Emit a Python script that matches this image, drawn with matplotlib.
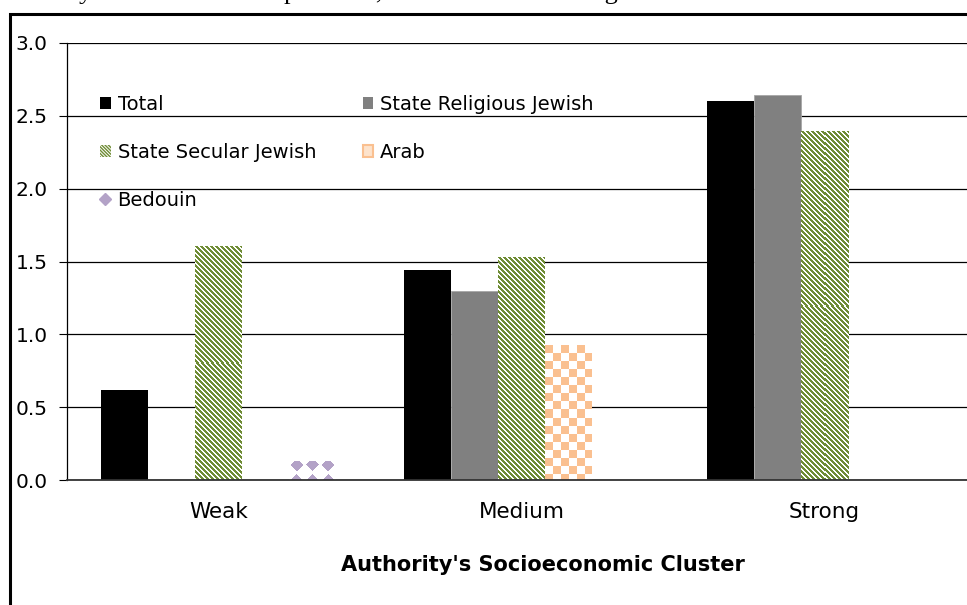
import numpy as np
import matplotlib
matplotlib.use("Agg")
import matplotlib.pyplot as plt
from matplotlib.colors import to_rgb
from matplotlib.patches import Patch, Rectangle
from matplotlib.lines import Line2D

# Hours per class relative to the average, by socioeconomic cluster
categories = ["Weak", "Medium", "Strong"]
series_names = ["Total", "State Religious Jewish", "State Secular Jewish", "Arab", "Bedouin"]
total = [0.62, 1.44, 2.60]
state_religious = [np.nan, 1.30, 2.64]
state_secular = [1.60, 1.53, 2.39]
arab = [np.nan, 0.92, np.nan]
bedouin = [0.13, np.nan, np.nan]
y_ticks = [0.0, 0.5, 1.0, 1.5, 2.0, 2.5, 3.0]

BLACK = "#000000"
GRAY = "#808080"
GREEN = "#6F8C35"
ORANGE = "#FAC090"
PURPLE = "#B3A2C7"

W, H = 967, 605
plt.rcParams["font.family"] = ["DejaVu Sans"]

fig = plt.figure(figsize=(W / 100, H / 100), dpi=100)
ax = fig.add_axes([67 / W, (H - 480) / H, 909 / W, 437 / H])
ax.set_xlim(-0.5, 2.5)
ax.set_ylim(0, 3.0)


def stripes(h, w):
    r, c = np.mgrid[0:h, 0:w]
    return ((c - r) % 5) < 3


def checker(h, w):
    r, c = np.mgrid[0:h, 0:w]
    return ((r // 8 + c // 8) % 2) == 0


def diamonds(h, w):
    r, c = np.mgrid[0:h, 0:w]
    p = w / 3.0
    dx = (c + 0.5) % p - p / 2
    rb = h - r
    dy = (rb + p / 2) % p - p / 2
    return (np.abs(dx) + np.abs(dy)) <= 6.5


def fill_pattern(bars, tile_fn, color):
    """Paint a pixel pattern over each bar of a container."""
    for bar in bars:
        if np.isnan(bar.get_height()):
            continue
        ext = bar.get_window_extent()
        w = max(int(round(ext.width)), 1)
        h = max(int(round(ext.height)), 1)
        img = np.ones((h, w, 3))
        img[tile_fn(h, w)] = to_rgb(color)
        x0, y0 = bar.get_x(), bar.get_y()
        ax.imshow(img, extent=(x0, x0 + bar.get_width(), y0, y0 + bar.get_height()),
                  origin="upper", interpolation="nearest", aspect="auto", zorder=2)


x = np.arange(len(categories))
width = 47 / 303
offsets = (np.arange(5) - 2) * width

ax.bar(x + offsets[0], total, width, color=BLACK, zorder=1)
ax.bar(x + offsets[1], state_religious, width, color=GRAY, edgecolor="#A6A6A6",
       linewidth=0.6, zorder=1)
sec = ax.bar(x + offsets[2], state_secular, width, color="white", zorder=1)
arb = ax.bar(x + offsets[3], arab, width, color="white", zorder=1)
bed = ax.bar(x + offsets[4], bedouin, width, color="white", zorder=1)

fill_pattern(sec, stripes, GREEN)
fill_pattern(arb, checker, ORANGE)
fill_pattern(bed, diamonds, PURPLE)

ax.set_xlim(-0.5, 2.5)
ax.set_ylim(0, 3.0)

# axes styling
ax.set_yticks(y_ticks)
ax.set_yticklabels([f"{v:.1f}" for v in y_ticks], fontsize=14.5)
ax.set_xticks(x)
ax.set_xticklabels(categories, fontsize=15.5)
ax.tick_params(axis="y", length=5.8, width=0.8, pad=8, color=BLACK)
ax.tick_params(axis="x", length=0, pad=16)
ax.yaxis.grid(True, color=BLACK, linewidth=0.9)
ax.set_axisbelow(True)
for side in ["top", "right"]:
    ax.spines[side].set_visible(False)
ax.spines["left"].set_linewidth(0.9)
ax.spines["bottom"].set_linewidth(1.3)
ax.spines["bottom"].set_color("#333333")

fig.text(543 / W, 1 - 565 / H, "Authority's Socioeconomic Cluster", ha="center",
         va="center", fontsize=15, fontweight="bold")

# legend, filled column by column
handles = [
    Patch(facecolor=BLACK, edgecolor="none"),
    Patch(facecolor="white", edgecolor=GREEN, hatch="\\" * 10, linewidth=0),
    Line2D([], [], linestyle="none", marker="D", markersize=6, color=PURPLE),
    Patch(facecolor=GRAY, edgecolor="none"),
    Patch(facecolor="#FDE3CC", edgecolor=ORANGE, linewidth=1.5),
]
labels = [series_names[0], series_names[2], series_names[4], series_names[1], series_names[3]]
fig.legend(handles, labels, loc="upper left", bbox_to_anchor=(100 / W, 1 - 95 / H),
           ncol=2, frameon=False, fontsize=14, handlelength=0.55, handleheight=0.55,
           handletextpad=0.35, labelspacing=1.48, columnspacing=2.4, borderpad=0,
           borderaxespad=0)

# surrounding chart frame and the caption line running off the top
fig.patches.append(Rectangle((9.5 / W, -0.1), 1.2, 1.1 - 14.5 / H, transform=fig.transFigure,
                             fill=False, edgecolor=BLACK, linewidth=2.2))
fig.text(16 / W, 1 + 1 / H, "weekly instruction hours per class, deviation over average",
         family="Liberation Serif", fontsize=19, ha="left", va="baseline")

fig.savefig("out.png", dpi=100)
